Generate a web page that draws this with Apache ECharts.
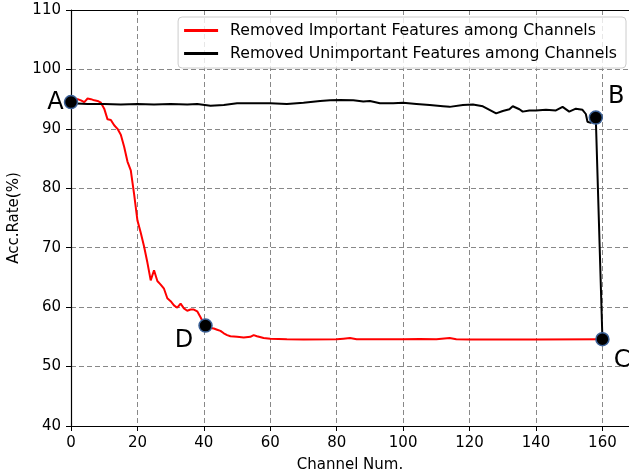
<!DOCTYPE html>
<html>
<head>
<meta charset="utf-8">
<script src="https://cdn.jsdelivr.net/npm/echarts@6/dist/echarts.min.js"></script>
<style>
  html, body { margin: 0; padding: 0; background: #fff; }
  #box { width: 629px; height: 471px; }
</style>
</head>
<body>
<div id="box"></div>
<script>
// values
const seriesNames = [
  'Removed Important Features among Channels',
  'Removed Unimportant Features among Channels'
];

const importantX = [0, 1, 2, 3, 4, 5, 6, 7, 8, 9, 10, 11, 12, 13, 14, 15, 16, 17, 18, 19,
  20, 21, 22, 23, 24, 25, 26, 27, 28, 29, 30, 31, 32, 33, 34, 35, 36, 37, 38, 39,
  40, 41, 42, 43, 44, 45, 46, 47, 48, 50, 52, 54, 55, 56, 58, 60, 65, 70, 80, 82,
  84, 86, 100, 105, 110, 114, 116, 120, 140, 160];
const importantY = [94.5, 94.6, 95.0, 94.8, 94.5, 95.1, 95.0, 94.8, 94.7, 94.4,
  93.4, 91.6, 91.5, 90.6, 90.0, 89.0, 87.0, 84.5, 83.0, 79.0,
  74.6, 72.5, 70.2, 67.5, 64.5, 66.2, 64.4, 63.8, 63.1, 61.5,
  61.0, 60.3, 59.9, 60.6, 59.8, 59.4, 59.6, 59.6, 59.3, 58.3,
  57.2, 56.8, 56.5, 56.4, 56.2, 56.0, 55.6, 55.3, 55.1, 55.0,
  54.9, 55.0, 55.3, 55.1, 54.8, 54.7, 54.6, 54.55, 54.6, 54.7,
  54.8, 54.6, 54.6, 54.65, 54.6, 54.8, 54.6, 54.55, 54.55, 54.6];

const unimportantX = [0, 5, 10, 15, 20, 25, 30, 35, 38, 42, 46, 50, 55, 60, 65, 70, 75, 78,
  81, 85, 88, 90, 93, 97, 100, 104, 108, 112, 114, 118, 121, 124, 126, 128, 130, 132,
  133, 135, 136, 138, 140, 143, 146, 148, 150, 152, 154, 155, 155.5, 156.5, 158, 160];
const unimportantY = [94.3, 94.2, 94.2, 94.1, 94.2, 94.1, 94.2, 94.1, 94.2, 93.9, 94.0,
  94.3, 94.3, 94.3, 94.2, 94.4, 94.7, 94.8, 94.85, 94.8, 94.6, 94.7, 94.3, 94.3, 94.4,
  94.2, 94.0, 93.8, 93.7, 94.0, 94.1, 93.8, 93.2, 92.6, 93.0, 93.3, 93.8, 93.3, 92.9,
  93.1, 93.1, 93.2, 93.1, 93.7, 92.9, 93.4, 93.2, 92.5, 91.2, 91.0, 91.9, 54.6];

const pointNames = ['A', 'B', 'C', 'D'];
const pointX = [0, 158, 160, 40.5];
const pointY = [94.5, 91.9, 54.6, 56.9];

const xTicks = { min: 0, max: 168, step: 20 };
const yTicks = { min: 40, max: 110, step: 10 };

const font = 'DejaVu Sans';

const pair = (xs, ys) => xs.map((x, i) => [x, ys[i]]);

// where each letter sits around its marker
const labelPlace = {
  A: { position: 'left', distance: 0, offset: [0, 1] },
  B: { position: 'right', distance: 5, offset: [0, -21] },
  C: { position: 'right', distance: 4, offset: [0, 22] },
  D: { position: 'left', distance: 5, offset: [0, 15] }
};

const chart = echarts.init(document.getElementById('box'));

const gridLine = { show: true, lineStyle: { color: '#888', type: [5, 3], width: 1 } };

const option = {
  animation: false,
  textStyle: { fontFamily: font },
  grid: { left: 71, top: 10, right: 0, bottom: 45, outerBoundsMode: 'none', containLabel: false },
  legend: {
    data: seriesNames,
    orient: 'vertical',
    right: 3,
    top: 17,
    padding: [5, 9, 6, 6],
    itemGap: 6,
    itemWidth: 34,
    itemHeight: 3,
    icon: 'rect',
    backgroundColor: 'rgba(255,255,255,0.8)',
    borderColor: '#ccc',
    borderWidth: 1,
    borderRadius: 4,
    textStyle: { fontFamily: font, fontSize: 15.7, color: '#000', lineHeight: 17, padding: [0, 0, 0, 7] }
  },
  xAxis: [
    {
      type: 'value',
      min: xTicks.min,
      max: xTicks.max,
      interval: xTicks.step,
      name: 'Channel Num.',
      nameLocation: 'middle',
      nameGap: 32,
      nameTextStyle: { fontFamily: font, fontSize: 15, color: '#000' },
      axisLine: { show: true, onZero: false, lineStyle: { color: '#000', width: 1.2 } },
      axisTick: { show: true, length: 5, lineStyle: { color: '#000' } },
      axisLabel: {
        fontFamily: font, fontSize: 15, color: '#000', margin: 10,
        showMaxLabel: false,
        formatter: v => (v % xTicks.step === 0 ? String(v) : '')
      },
      splitLine: gridLine
    },
    {
      type: 'value',
      position: 'top',
      min: xTicks.min,
      max: xTicks.max,
      axisLine: { show: true, lineStyle: { color: '#000', width: 1.2 } },
      axisTick: { show: false },
      axisLabel: { show: false },
      splitLine: { show: false }
    }
  ],
  yAxis: {
    type: 'value',
    min: yTicks.min,
    max: yTicks.max,
    interval: yTicks.step,
    name: 'Acc.Rate(%)',
    nameLocation: 'middle',
    nameGap: 43,
    nameTextStyle: { fontFamily: font, fontSize: 15, color: '#000' },
    axisLine: { show: true, onZero: false, lineStyle: { color: '#000', width: 1.2 } },
    axisTick: { show: true, length: 5, lineStyle: { color: '#000' } },
    axisLabel: { fontFamily: font, fontSize: 15, color: '#000', margin: 10 },
    splitLine: gridLine
  },
  series: [
    {
      name: seriesNames[0],
      type: 'line',
      data: pair(importantX, importantY),
      showSymbol: false,
      color: '#ff0000',
      lineStyle: { color: '#ff0000', width: 2 },
      z: 3
    },
    {
      name: seriesNames[1],
      type: 'line',
      data: pair(unimportantX, unimportantY),
      showSymbol: false,
      color: '#000',
      lineStyle: { color: '#000', width: 2 },
      z: 4
    },
    {
      type: 'scatter',
      symbolSize: 13,
      z: 6,
      itemStyle: { color: '#000', borderColor: '#3b6096', borderWidth: 1.5, opacity: 1 },
      label: { show: true, fontFamily: font, fontSize: 24, color: '#000', formatter: p => p.data.name },
      data: pointNames.map((n, i) => ({
        name: n,
        value: [pointX[i], pointY[i]],
        label: labelPlace[n]
      }))
    }
  ]
};

chart.setOption(option);
</script>
</body>
</html>
